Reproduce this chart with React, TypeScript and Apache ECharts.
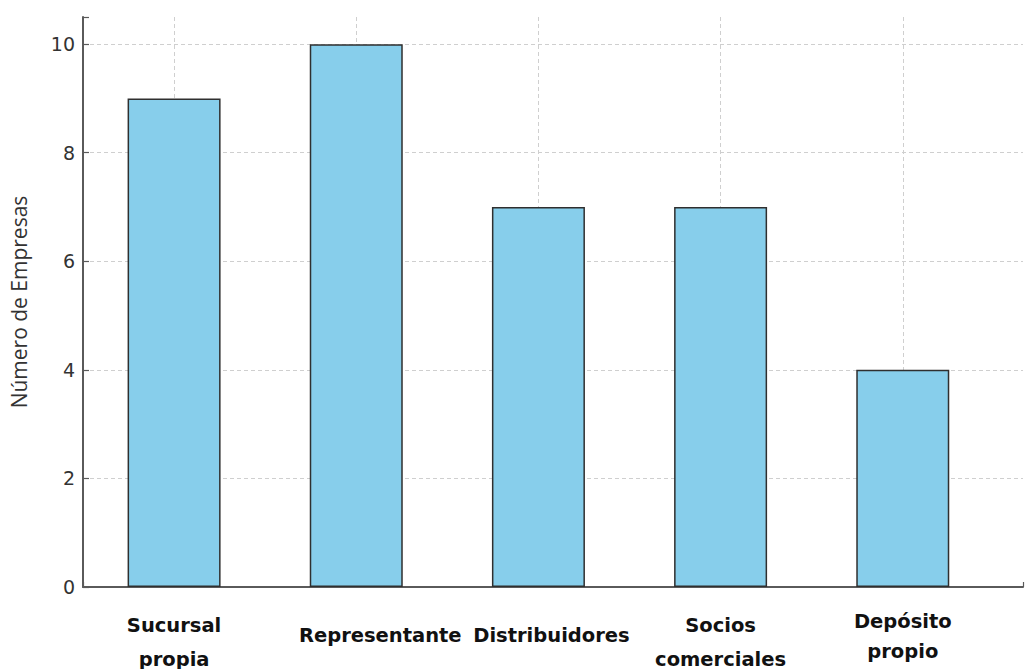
import React, { useEffect, useRef } from "react";
import * as echarts from "echarts";

const categories: string[] = [
  "Sucursal\npropia",
  "Representante",
  "Distribuidores",
  "Socios\ncomerciales",
  "Depósito\npropio",
];
const values: number[] = [9, 10, 7, 7, 4];
const yTicks: number[] = [0, 2, 4, 6, 8, 10];

// label layout styles (rich keys) per category
const labelStyleKeys: string[][] = [
  ["l38", "l30"],
  ["l58r"],
  ["l58d"],
  ["l38", "l30"],
  ["l30", "l30"],
];

const FONT_CAT = "'DejaVu Sans', sans-serif";

export default function App() {
  const ref = useRef<HTMLDivElement>(null);
  useEffect(() => {
    if (!ref.current) return;
    const chart = echarts.init(ref.current, null, { renderer: "svg" });
    const base = { fontFamily: FONT_CAT, fontSize: 19.5, fontWeight: "bold" as const, color: "#111" };
    chart.setOption({
      animation: false,
      backgroundColor: "#ffffff",
      grid: { left: 81, right: -2, top: 17, bottom: 80, containLabel: false },
      xAxis: {
        type: "value",
        min: -0.5,
        max: 4.66,
        splitNumber: 5,
        axisLine: { show: true, onZero: false, lineStyle: { color: "#5a5a5a", width: 2 } },
        axisTick: { show: true, inside: true, length: 5, lineStyle: { color: "#5a5a5a", width: 1.2 } },
        splitLine: {
          show: true,
          showMinLine: false,
          showMaxLine: false,
          lineStyle: { color: "#cfcfcf", type: [4, 3], width: 1 },
        },
        axisLabel: {
          margin: 19,
          formatter: (v: number) => {
            if (Math.abs(v - Math.round(v)) > 1e-6) return "";
            const i = Math.round(v);
            if (i < 0 || i >= categories.length) return "";
            const lines = categories[i].split("\n");
            return lines.map((ln, k) => `{${labelStyleKeys[i][k]}|${ln}}`).join("\n");
          },
          rich: {
            l30: { ...base, lineHeight: 30, align: "center" },
            l38: { ...base, lineHeight: 38, align: "center" },
            l58r: { ...base, lineHeight: 58, align: "center", padding: [0, 0, 0, 48] },
            l58d: { ...base, lineHeight: 58, align: "center", padding: [0, 0, 0, 26] },
          },
        },
      },
      yAxis: {
        type: "value",
        min: 0,
        max: 10.5,
        interval: 2,
        name: "Número de Empresas",
        nameLocation: "middle",
        nameGap: 54,
        nameRotate: 90,
        nameTextStyle: { fontFamily: "'Open Sans', sans-serif", fontSize: 21, color: "#333" },
        axisLine: { show: true, onZero: false, lineStyle: { color: "#5a5a5a", width: 2 } },
        axisTick: { show: true, inside: true, length: 6, lineStyle: { color: "#5a5a5a", width: 1.2 } },
        splitLine: {
          show: true,
          showMinLine: false,
          showMaxLine: false,
          lineStyle: { color: "#cfcfcf", type: [4, 3], width: 1 },
        },
        axisLabel: {
          margin: 8,
          fontFamily: "'DejaVu Sans', sans-serif",
          fontSize: 19,
          color: "#333",
          formatter: (v: number) => (yTicks.indexOf(v) >= 0 ? String(v) : ""),
        },
      },
      series: [
        {
          type: "bar",
          data: values.map((v, i) => [i, v]),
          barWidth: 93,
          itemStyle: { color: "#87CEEB", borderColor: "#2f2f2f", borderWidth: 1.5 },
        },
      ],
    });
    return () => chart.dispose();
  }, []);
  return (
    <div
      ref={ref}
      style={{ position: "fixed", left: 0, top: 0, width: 1026, height: 669 }}
    />
  );
}
